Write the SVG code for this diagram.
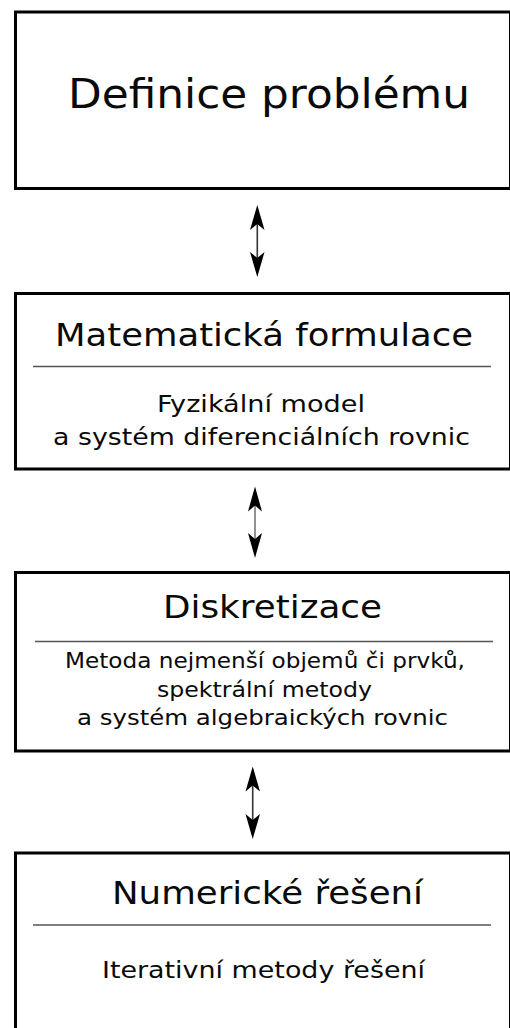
<svg xmlns="http://www.w3.org/2000/svg" width="510" height="1028" viewBox="0 0 510 1028">
<style>
.box{fill:#fff;stroke:#000;stroke-width:3}
.sep{stroke:#555;stroke-width:1.5}
text{font-family:"DejaVu Sans","Liberation Sans",sans-serif;fill:#0a0a0a}
.t1{font-size:40px}
.t{font-size:32px}
.s{font-size:23.5px}
.s3{font-size:21px}
.shaft{stroke:#333;stroke-width:1.6}
.head{fill:#000}
</style>
<rect width="510" height="1028" fill="#fff"/>
<g id="n1">
<rect class="box" x="15.5" y="12" width="495" height="176.5"/>
<text class="t1" x="68" y="108" textLength="402" lengthAdjust="spacingAndGlyphs">Definice problému</text>
</g>
<g id="n2">
<rect class="box" x="15.5" y="293.5" width="495" height="175.5"/>
<text class="t" x="55" y="345.5" textLength="418" lengthAdjust="spacingAndGlyphs">Matematická formulace</text>
<line class="sep" x1="33" y1="366.5" x2="491" y2="366.5"/>
<text class="s" x="157" y="411.5" textLength="208" lengthAdjust="spacingAndGlyphs">Fyzikální model</text>
<text class="s" x="53" y="445" textLength="417" lengthAdjust="spacingAndGlyphs">a systém diferenciálních rovnic</text>
</g>
<g id="n3">
<rect class="box" x="15.5" y="572.5" width="495" height="178.5"/>
<text class="t" x="163" y="618" textLength="219" lengthAdjust="spacingAndGlyphs">Diskretizace</text>
<line class="sep" x1="35" y1="641.5" x2="493" y2="641.5"/>
<text class="s3" x="65" y="668" textLength="400" lengthAdjust="spacingAndGlyphs">Metoda nejmenší objemů či prvků,</text>
<text class="s3" x="157" y="697" textLength="215" lengthAdjust="spacingAndGlyphs">spektrální metody</text>
<text class="s3" x="77" y="725" textLength="371" lengthAdjust="spacingAndGlyphs">a systém algebraických rovnic</text>
</g>
<g id="n4">
<rect class="box" x="15.5" y="853" width="495" height="200"/>
<text class="t" x="112" y="904" textLength="311" lengthAdjust="spacingAndGlyphs">Numerické řešení</text>
<line class="sep" x1="33" y1="925" x2="491" y2="925"/>
<text class="s" x="102" y="978" textLength="323" lengthAdjust="spacingAndGlyphs">Iterativní metody řešení</text>
</g>
<g id="connectors">
<g id="c1">
<line class="shaft" x1="257.3" y1="222" x2="257.3" y2="260"/>
<path class="head" d="M257.3 205 L264.5 230 L257.3 224 L250 230 Z"/>
<path class="head" d="M257.3 277 L264.5 252 L257.3 258 L250 252 Z"/>
</g>
<g id="c2">
<line class="shaft" x1="255" y1="504" x2="255" y2="541" style="stroke:#777"/>
<path class="head" d="M255 486.5 L262 511.5 L255 505.5 L248 511.5 Z"/>
<path class="head" d="M255 558 L262 533 L255 539 L248 533 Z"/>
</g>
<g id="c3">
<line class="shaft" x1="252.7" y1="784" x2="252.7" y2="822"/>
<path class="head" d="M252.7 766.5 L260 791.5 L252.7 785.5 L245.5 791.5 Z"/>
<path class="head" d="M252.7 839 L260 814 L252.7 820 L245.5 814 Z"/>
</g>
</g>
</svg>
